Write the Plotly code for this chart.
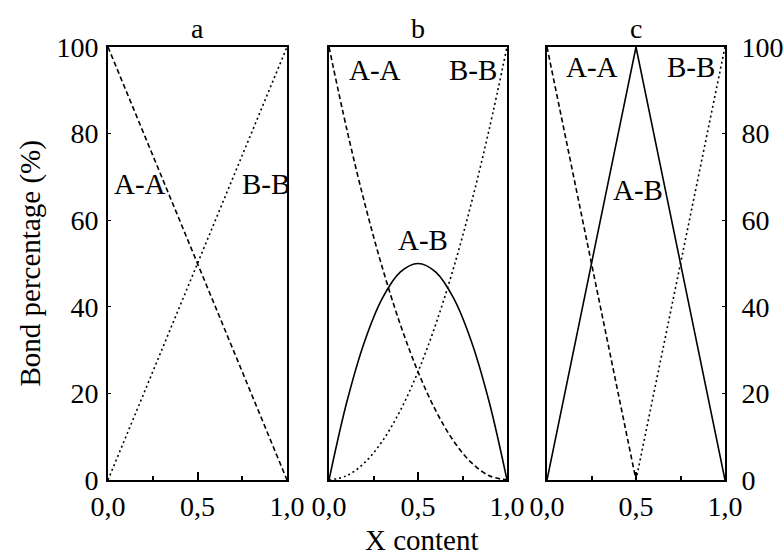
import plotly.graph_objects as go

# Composition axis (X content) shared by every panel
x_lin = [0.0, 1.0]
x_tri = [0.0, 0.5, 1.0]
x_par = [0.0, 0.1, 0.2, 0.3, 0.4, 0.5, 0.6, 0.7, 0.8, 0.9, 1.0]

# Panel a: A-A and B-B bonds only
a_AA = [100, 0]
a_BB = [0, 100]

# Panel b: random distribution
b_AA = [100, 81, 64, 49, 36, 25, 16, 9, 4, 1, 0]
b_BB = [0, 1, 4, 9, 16, 25, 36, 49, 64, 81, 100]
b_AB = [0, 18, 32, 42, 48, 50, 48, 42, 32, 18, 0]

# Panel c: ordered (maximum A-B) distribution
c_AA = [100, 0, None]
c_BB = [None, 0, 100]
c_AB = [0, 100, 0]

x_tickvals = [0, 0.5, 1.0]
x_ticktext = ["0,0", "0,5", "1,0"]
y_tickvals = [0, 20, 40, 60, 80, 100]
y_ticktext = ["0", "20", "40", "60", "80", "100"]

FONT = "Liberation Serif"
DASH = "5px,3px"
DOT = "2px,3px"
LW = 1.6

fig = go.Figure()

def add_line(x, y, dash, axis_idx, smooth=False):
    sfx = "" if axis_idx == 1 else str(axis_idx)
    fig.add_trace(go.Scatter(
        x=x, y=y, mode="lines",
        line=dict(color="black", width=LW, dash=dash,
                  shape="spline" if smooth else "linear", smoothing=1.0),
        xaxis="x" + sfx, yaxis="y" + sfx, showlegend=False, hoverinfo="skip",
    ))

add_line(x_lin, a_AA, DASH, 1)
add_line(x_lin, a_BB, DOT, 1)

add_line(x_par, b_AA, DASH, 2, smooth=True)
add_line(x_par, b_BB, DOT, 2, smooth=True)
add_line(x_par, b_AB, "solid", 2, smooth=True)

add_line(x_tri, c_AA, DASH, 3)
add_line(x_tri, c_BB, DOT, 3)
add_line(x_tri, c_AB, "solid", 3)

tickfont = dict(family=FONT, size=28, color="black")

def xaxis(domain, anchor):
    return dict(
        domain=domain, range=[0, 1], anchor=anchor, automargin=False,
        showgrid=False, zeroline=False,
        showline=True, linecolor="black", linewidth=2, mirror=True,
        tickvals=x_tickvals, ticktext=x_ticktext, tickfont=tickfont,
        ticks="inside", ticklen=8, tickwidth=1.5, tickcolor="black",
        ticklabelstandoff=0,
        minor=dict(tickvals=[0.25, 0.75], ticks="inside", ticklen=4,
                   tickwidth=1.5, tickcolor="black"),
    )

def yaxis(anchor, side, labels):
    return dict(
        domain=[0, 1], range=[0, 100], anchor=anchor, side=side, automargin=False,
        showgrid=False, zeroline=False,
        showline=True, linecolor="black", linewidth=2, mirror=True,
        tickvals=y_tickvals, ticktext=y_ticktext, tickfont=tickfont,
        showticklabels=labels,
        ticks="inside" if labels else "", ticklen=3, tickwidth=1, tickcolor="black",
        ticklabelstandoff=2 if side == "left" else 9,
    )

W = 784.0
left, right = 108, 725
span = right - left

def dom(a, b):
    return [(a - left) / span, (b - left) / span]

fig.update_layout(
    width=784, height=555,
    margin=dict(l=left, r=int(W - right), t=47, b=75),
    paper_bgcolor="white", plot_bgcolor="white",
    font=dict(family=FONT, color="black"),
    xaxis=xaxis(dom(108, 287), "y"),
    xaxis2=xaxis(dom(329, 507), "y2"),
    xaxis3=xaxis(dom(547, 725), "y3"),
    yaxis=yaxis("x", "left", True),
    yaxis2=yaxis("x2", "left", False),
    yaxis3=yaxis("x3", "right", True),
)

labfont = dict(family=FONT, size=29, color="black")

def label(text, x, y, axis_idx):
    sfx = "" if axis_idx == 1 else str(axis_idx)
    fig.add_annotation(text=text, x=x, y=y, xref="x" + sfx, yref="y" + sfx,
                       showarrow=False, font=labfont,
                       xanchor="center", yanchor="middle")

label("A-A", 0.18, 68.4, 1)
label("B-B", 0.88, 68.4, 1)
label("A-A", 0.26, 94.6, 2)
label("B-B", 0.81, 94.6, 2)
label("A-B", 0.53, 55.4, 2)
label("A-A", 0.25, 95.3, 3)
label("B-B", 0.81, 95.3, 3)
label("A-B", 0.51, 67.0, 3)

# Panel letters
for sfx, letter in [("", "a"), ("2", "b"), ("3", "c")]:
    fig.add_annotation(text=letter, x=0.5, y=1, xref="x" + sfx + " domain",
                       yref="y" + sfx + " domain", showarrow=False,
                       font=dict(family=FONT, size=28, color="black"),
                       xanchor="center", yanchor="bottom", yshift=1)

# Axis titles
fig.add_annotation(text="Bond percentage (%)", x=(30 - left) / span, y=0.5,
                   xref="paper", yref="paper", textangle=-90, showarrow=False,
                   font=dict(family=FONT, size=29, color="black"),
                   xanchor="center", yanchor="middle")
fig.add_annotation(text="X content", x=(422 - left) / span, y=(480 - 540) / 433,
                   xref="paper", yref="paper", showarrow=False,
                   font=dict(family=FONT, size=29, color="black"),
                   xanchor="center", yanchor="middle")

fig.write_html("out.html")
